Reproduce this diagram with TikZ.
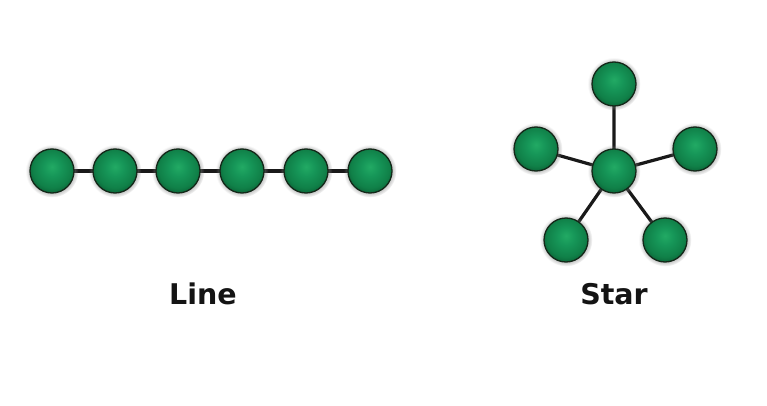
\documentclass[tikz,border=0pt]{standalone}
\usepackage{fontspec}
\setmainfont{DejaVu Sans}
\usetikzlibrary{shadows}
\definecolor{gA}{RGB}{34,170,100}
\definecolor{gB}{RGB}{22,150,88}
\definecolor{gC}{RGB}{16,128,72}
\definecolor{gD}{RGB}{10,100,55}
\definecolor{edgegreen}{RGB}{20,40,25}
\pgfdeclareradialshading{greenball}{\pgfpoint{0bp}{5bp}}{color(0bp)=(gA); color(10bp)=(gB); color(22bp)=(gC); color(28bp)=(gD); color(50bp)=(gD)}
\tikzset{
  ball/.style={circle, minimum size=44pt, inner sep=0pt, shading=greenball, draw=edgegreen, line width=1.3pt,
    circular drop shadow={shadow xshift=0pt, shadow yshift=0pt, shadow scale=1.2, opacity=0.4}},
  link/.style={line width=3.2pt, black!90},
  lbl/.style={font=\bfseries\fontsize{28.5}{33}\selectfont, text=black!92}
}
\begin{document}
\begin{tikzpicture}[x=1pt,y=-1pt]
\useasboundingbox[fill=white] (0,0) rectangle (767,406);
% line
\foreach \i/\x in {1/52,2/115,3/178,4/242,5/306,6/370}{
  \coordinate (p\i) at (\x,171);
}
\draw[link] (p1) -- (p2) -- (p3) -- (p4) -- (p5) -- (p6);
\foreach \i in {1,...,6}{ \node[ball] (l\i) at (p\i) {}; }
% star
\coordinate (pc) at (614,171);
\coordinate (pt) at (614,84);
\coordinate (pw) at (536,149);
\coordinate (pe) at (695,149);
\coordinate (psw) at (566,240);
\coordinate (pse) at (665,240);
\draw[link] (pc) -- (pt) (pc) -- (pw) (pc) -- (pe) (pc) -- (psw) (pc) -- (pse);
\foreach \n in {c,t,w,e,sw,se}{ \node[ball] (\n) at (p\n) {}; }
\node[lbl] (linelbl) at (203,294) {Line};
\node[lbl] (starlbl) at (614,294) {Star};
\end{tikzpicture}
\end{document}
